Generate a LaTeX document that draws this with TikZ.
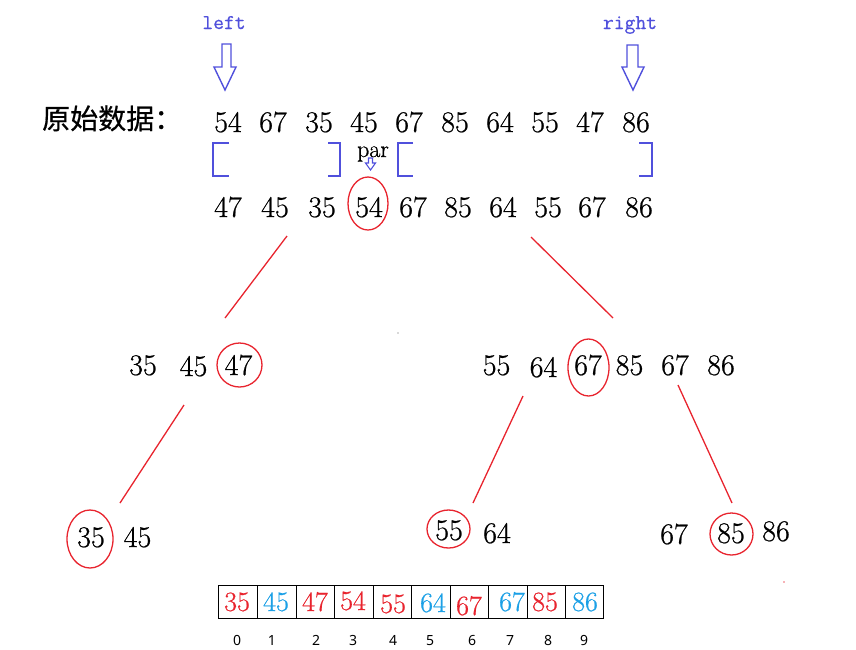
\documentclass[tikz,border=0pt]{standalone}
\usepackage{fontspec}
\newfontfamily\cjk{Noto Sans CJK SC}[FakeBold=0.6]
\newfontfamily\idxfont{Noto Sans}
\newfontfamily\numfont{Latin Modern Roman}[FakeBold=0.7]
\newfontfamily\ptrfont{Latin Modern Mono}[FakeBold=0.6]
\definecolor{myred}{RGB}{232,36,46}
\definecolor{myblue}{RGB}{28,160,230}
\definecolor{brblue}{RGB}{80,80,220}
\begin{document}
\begin{tikzpicture}[x=1pt,y=-1pt,
  num/.style={inner sep=0pt, anchor=base, font=\numfont\fontsize{30}{30}\selectfont},
  anum/.style={inner sep=0pt, anchor=base, font=\numfont\fontsize{28}{28}\selectfont},
  ptr/.style={inner sep=0pt, anchor=base, text=brblue, font=\ptrfont\fontsize{21}{21}\selectfont},
  idx/.style={inner sep=0pt, anchor=base, font=\idxfont\fontsize{14}{14}\selectfont},
  hollow/.style={draw=brblue, line width=1.4pt, line join=miter},
  brk/.style={draw=brblue, line width=1.6pt},
  redline/.style={draw=myred, line width=1.3pt},
  pivot/.style={draw=myred, line width=1.3pt},
  cell/.style={draw=black, line width=0.9pt}]
\useasboundingbox (0,0) rectangle (856,649);

% pointer labels and hollow arrows
\node[ptr] (left) at (224,29) {left};
\node[ptr] (right) at (630,29) {right};
\draw[hollow] (222,44) -- (231,44) -- (231,67) -- (236,67) -- (225,90) -- (214,67) -- (222,67) -- cycle;
\draw[hollow] (627,45) -- (638,45) -- (638,67) -- (644,67) -- (633,90) -- (622,67) -- (627,67) -- cycle;

% label
\node[inner sep=0pt, anchor=base west, font=\cjk\fontsize{28}{28}\selectfont] (lab) at (42,129) {原始数据：};

% original row
\foreach \v/\x [count=\i] in {54/228,67/273,35/319,45/364,67/409,85/455,64/500,55/545,47/590,86/636}
  \node[num] (a\i) at (\x,132) {\v};

% brackets
\draw[brk] (229,143) -- (213,143) -- (213,176) -- (229,176);
\draw[brk] (328,143) -- (340,143) -- (340,176) -- (328,176);
\draw[brk] (413,143) -- (398,143) -- (398,176) -- (413,176);
\draw[brk] (639,143) -- (652,143) -- (652,176) -- (639,176);

% par
\node[inner sep=0pt, anchor=base, font=\numfont\fontsize{24}{24}\selectfont] (par) at (373,157) {par};
\draw[draw=brblue, line width=1.1pt] (368.5,158) -- (372.5,158) -- (372.5,163) -- (375.5,163) -- (370.5,170) -- (365.5,163) -- (368.5,163) -- cycle;

% row after partition
\foreach \v/\x [count=\i] in {47/228,45/275,35/322,54/369,67/413,85/458,64/503,55/548,67/592,86/639}
  \node[num] (b\i) at (\x,217) {\v};
\draw[pivot] (368,203.5) ellipse [x radius=20, y radius=26.5];

% level 1 connectors
\coordinate (l1a) at (287,236); \coordinate (l1b) at (225,318);
\coordinate (r1a) at (531,237); \coordinate (r1b) at (613,318);
\draw[redline] (l1a) -- (l1b);
\draw[redline] (r1a) -- (r1b);

% level 2 left
\node[num] (c1) at (143,375) {35};
\node[num] (c2) at (193.5,376) {45};
\node[num] (c3) at (238.5,375) {47};
\draw[pivot] (239.5,365) ellipse [x radius=22.5, y radius=22];

% level 2 right
\node[num] (d1) at (496.5,375) {55};
\node[num] (d2) at (543.5,377) {64};
\node[num] (d3) at (588,375) {67};
\node[num] (d4) at (629.5,375) {85};
\node[num] (d5) at (675,375) {67};
\node[num] (d6) at (721,375) {86};
\draw[pivot] (588.5,367.5) ellipse [x radius=20.5, y radius=28.5];

% level 2 connectors
\coordinate (l2a) at (184,405); \coordinate (l2b) at (120,503);
\coordinate (m2a) at (523,396); \coordinate (m2b) at (473,503);
\coordinate (r2a) at (678,385); \coordinate (r2b) at (732,503);
\draw[redline] (l2a) -- (l2b);
\draw[redline] (m2a) -- (m2b);
\draw[redline] (r2a) -- (r2b);

% level 3
\node[num] (e1) at (91,547) {35};
\node[num] (e2) at (137.5,547) {45};
\draw[pivot] (90,539) ellipse [x radius=23, y radius=29];
\node[num] (f1) at (449,540) {55};
\node[num] (f2) at (497,543) {64};
\draw[pivot] (448.5,529) ellipse [x radius=21.5, y radius=19];
\node[num] (g1) at (674,544) {67};
\node[num] (g2) at (731,543) {85};
\node[num] (g3) at (776,541) {86};
\draw[pivot] (731.5,534) ellipse [x radius=21.5, y radius=21];

% stray dots
\fill[gray!60] (398,333) circle [radius=0.8];
\fill[myred!70] (784,582) circle [radius=0.9];

% result array
\foreach \xa/\xb [count=\i] in {218/257,257/296,296/334,334/373,373/411,411/450,450/488,488/527,527/565,565/603}
  \draw[cell] (\xa,585) rectangle (\xb,618);
\node[anum, text=myred] (s0) at (237,611) {35};
\node[anum, text=myblue] (s1) at (276,611) {45};
\node[anum, text=myred] (s2) at (315,611) {47};
\node[anum, text=myred] (s3) at (353,610) {54};
\node[anum, text=myred] (s4) at (393,613) {55};
\node[anum, text=myblue] (s5) at (433,612) {64};
\node[anum, text=myred] (s6) at (469,615) {67};
\node[anum, text=myblue] (s7) at (512,611) {67};
\node[anum, text=myred] (s8) at (545,611) {85};
\node[anum, text=myblue] (s9) at (585,611) {86};

% indices
\foreach \n/\x in {0/237,1/272,2/316,3/353,4/393,5/430,6/472,7/510,8/548,9/584}
  \node[idx] (i\n) at (\x,645) {\n};
\end{tikzpicture}
\end{document}
